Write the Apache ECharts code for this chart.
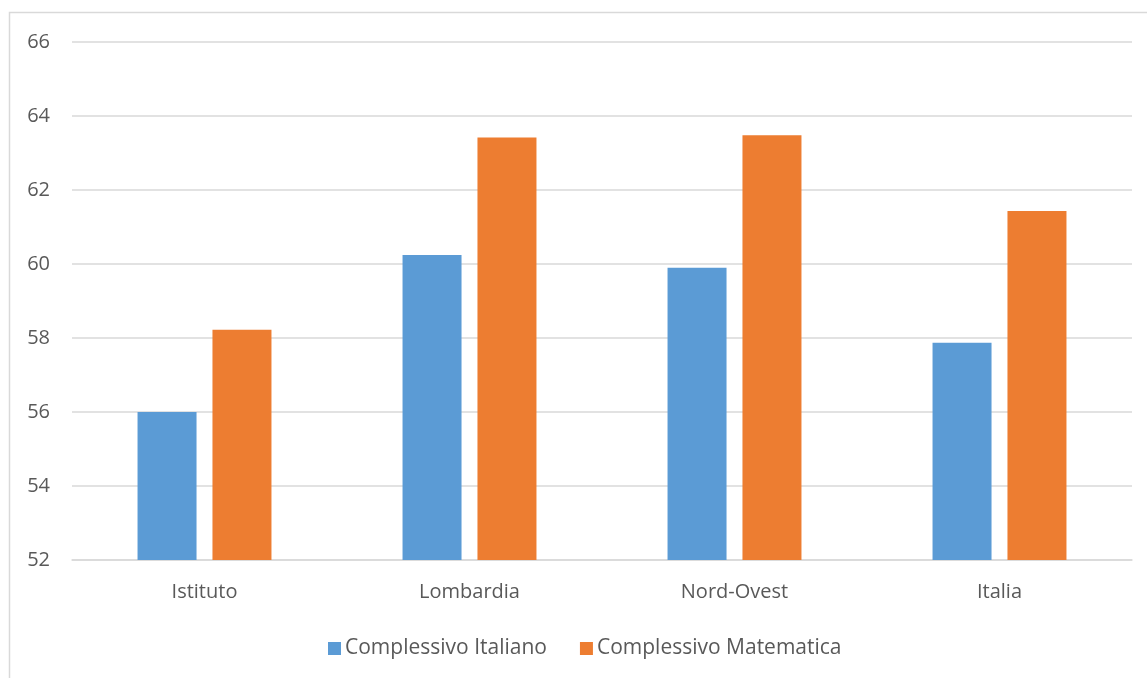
<!DOCTYPE html>
<html>
<head>
<meta charset="utf-8">
<script src="https://cdn.jsdelivr.net/npm/echarts@6/dist/echarts.min.js"></script>
<style>
html,body{margin:0;padding:0;background:#fff;}
#chart{width:1147px;height:678px;}
</style>
</head>
<body>
<div id="chart"></div>
<script>
const categories = ['Istituto', 'Lombardia', 'Nord-Ovest', 'Italia'];
const seriesNames = ['Complessivo Italiano', 'Complessivo Matematica'];
const italiano = [56.0, 60.24, 59.9, 57.87];
const matematica = [58.22, 63.42, 63.48, 61.43];

const chart = echarts.init(document.getElementById('chart'));
const font = '"Open Sans", "Noto Sans", sans-serif';
chart.setOption({
  animation: false,
  textStyle: { fontFamily: font },
  graphic: [{
    type: 'rect',
    shape: { x: 9.5, y: 12.5, width: 1300, height: 800 },
    style: { fill: 'none', stroke: '#d9d9d9', lineWidth: 1.5 },
    silent: true
  }],
  grid: { left: 72, right: 15, top: 42, bottom: 118, containLabel: false },
  legend: {
    data: seriesNames,
    left: 323,
    top: 633,
    itemWidth: 13,
    itemHeight: 13,
    itemGap: 33,
    icon: 'rect',
    textStyle: { color: '#595959', fontSize: 21, fontFamily: font, padding: [0, 0, 0, -1] }
  },
  xAxis: {
    type: 'category',
    data: categories,
    axisLine: { show: true, lineStyle: { color: '#d9d9d9', width: 1.5 } },
    axisTick: { show: false },
    axisLabel: { color: '#595959', fontSize: 20, margin: 22, fontFamily: font }
  },
  yAxis: {
    type: 'value',
    min: 52,
    max: 66,
    interval: 2,
    axisLine: { show: false },
    axisTick: { show: false },
    splitLine: { lineStyle: { color: '#d9d9d9', width: 1.5 } },
    axisLabel: { color: '#595959', fontSize: 20, margin: 22, fontFamily: font }
  },
  series: [
    {
      name: seriesNames[0],
      type: 'bar',
      data: italiano,
      barWidth: 59,
      barGap: '27%',
      itemStyle: { color: '#5B9BD5' }
    },
    {
      name: seriesNames[1],
      type: 'bar',
      data: matematica,
      barWidth: 59,
      barGap: '27%',
      itemStyle: { color: '#ED7D31' }
    }
  ]
});
</script>
</body>
</html>
